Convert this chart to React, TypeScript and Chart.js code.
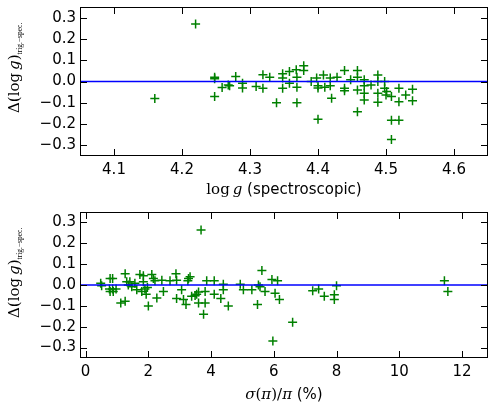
import React, { useEffect, useRef } from "react";
import { Chart, registerables } from "chart.js";

Chart.register(...registerables);

// ---- Data ----
const topLogg = [
  4.16, 4.22, 4.248, 4.248, 4.248, 4.259, 4.268, 4.27, 4.279, 4.289,
  4.289, 4.309, 4.319, 4.319, 4.329, 4.339, 4.348, 4.348, 4.348, 4.358,
  4.358, 4.368, 4.369, 4.369, 4.369, 4.379, 4.379, 4.39, 4.398, 4.4,
  4.4, 4.4, 4.408, 4.41, 4.418, 4.418, 4.42, 4.428, 4.439, 4.439,
  4.439, 4.448, 4.458, 4.458, 4.458, 4.458, 4.468, 4.468, 4.468, 4.468,
  4.478, 4.488, 4.488, 4.488, 4.488, 4.498, 4.498, 4.5, 4.501, 4.508,
  4.508, 4.508, 4.519, 4.519, 4.519, 4.529, 4.539, 4.539,
];
const topDelta = [
  -0.08, 0.27, 0.02, 0.013, -0.07, -0.028, -0.016, -0.02, 0.024, -0.008,
  -0.03, -0.024, 0.032, -0.032, 0.02, -0.1, 0.036, 0.016, -0.032, 0.047,
  -0.008, 0.055, 0.02, -0.027, -0.1, 0.074, 0.052, 0, 0.016, -0.02,
  -0.177, -0.03, 0.03, -0.027, 0.016, -0.02, -0.079, 0.02, 0.052, -0.032,
  -0.043, 0.008, 0.052, 0.02, -0.04, -0.142, 0.008, -0.02, -0.055, -0.087,
  -0.016, 0.03, 0, -0.055, -0.098, 0, -0.032, -0.063, -0.047, -0.182,
  -0.273, -0.071, -0.032, -0.095, -0.182, -0.063, -0.036, -0.09,
];
const botSigma = [
  0.48, 0.51, 0.78, 0.76, 0.78, 0.86, 0.86, 0.88, 0.97, 1.26,
  1.12, 1.26, 1.31, 1.36, 1.41, 1.47, 1.57, 1.63, 1.73, 1.79,
  1.84, 1.84, 1.89, 1.93, 1.97, 2.0, 2.11, 2.16, 2.21, 2.27,
  2.43, 2.48, 2.69, 2.88, 2.9, 2.9, 3.06, 3.12, 3.2, 3.26,
  3.28, 3.33, 3.38, 3.49, 3.54, 3.6, 3.6, 3.68, 3.76, 3.81,
  3.81, 3.86, 4.1, 4.1, 4.31, 4.39, 4.39, 4.55, 4.93, 5.03,
  5.3, 5.48, 5.51, 5.56, 5.62, 5.72, 5.94, 5.97, 6.04, 6.12,
  6.18, 6.6, 7.24, 7.43, 7.61, 7.93, 7.93, 8.0, 11.44, 11.55,
];
const botDelta = [
  0.008, -0.003, 0.031, -0.019, -0.031, 0.031, -0.019, -0.031, -0.019, 0.054,
  -0.086, -0.078, 0.016, 0, 0.016, -0.008, 0.008, -0.023, 0.05, -0.031,
  0.044, 0.016, -0.019, -0.044, -0.012, -0.101, 0.05, 0.031, 0.02, -0.062,
  0.023, -0.031, 0.02, 0.054, 0.023, -0.065, -0.023, -0.07, -0.093, 0.02,
  0.031, 0.039, -0.054, -0.05, -0.044, -0.034, -0.086, 0.264, -0.14, -0.031,
  -0.086, 0.02, 0.02, -0.044, -0.065, 0.003, -0.023, -0.101, 0.003, -0.023,
  -0.023, -0.093, 0, -0.008, 0.07, -0.031, 0.026, -0.269, -0.039, 0.02,
  -0.07, -0.179, -0.028, -0.019, -0.054, -0.047, -0.07, -0.003, 0.02, -0.031,
];
const topXTicks = [4.1, 4.2, 4.3, 4.4, 4.5, 4.6];
const botXTicks = [0, 2, 4, 6, 8, 10, 12];
const yTicks = [-0.3, -0.2, -0.1, 0.0, 0.1, 0.2, 0.3];
const topXRange = [4.05, 4.65];
const botXRange = [-0.18, 12.83];
const yRange = [-0.35, 0.35];
const refValue = 0;

// ---- Styling ----
const SANS = "DejaVu Sans";
const SERIF = "DejaVu Serif";
const GREEN = "#008000";
const BLUE = "#0000ff";

type Run = { t: string; f: string; dy?: number };

function drawRuns(ctx: CanvasRenderingContext2D, runs: Run[], x: number, y: number, center: boolean) {
  let total = 0;
  const ws = runs.map((r) => {
    ctx.font = r.f;
    const w = ctx.measureText(r.t).width;
    total += w;
    return w;
  });
  let cx = center ? x - total / 2 : x;
  ctx.textAlign = "left";
  ctx.textBaseline = "alphabetic";
  runs.forEach((r, i) => {
    ctx.font = r.f;
    ctx.fillText(r.t, cx, y + (r.dy || 0));
    cx += ws[i];
  });
}

const yLabelRuns: Run[] = [
  { t: "\u0394(log\u2009", f: `15px ${SERIF}` },
  { t: "g", f: `italic 15px ${SERIF}` },
  { t: ")", f: `15px ${SERIF}` },
  { t: "trig.\u2212spec.", f: `7.5px "Liberation Serif"`, dy: 3 },
];
const topXLabelRuns: Run[] = [
  { t: "log\u2009", f: `15px ${SERIF}` },
  { t: "g", f: `italic 15px ${SERIF}` },
  { t: " (spectroscopic)", f: `15px ${SANS}` },
];
const botXLabelRuns: Run[] = [
  { t: "\u03c3", f: `italic 15px ${SERIF}` },
  { t: "(", f: `15px ${SERIF}` },
  { t: "\u03c0", f: `italic 15px ${SERIF}` },
  { t: ")/", f: `15px ${SERIF}` },
  { t: "\u03c0", f: `italic 15px ${SERIF}` },
  { t: " (%)", f: `15px ${SANS}` },
];

function makeFramePlugin(xRuns: Run[], xTitleOffset: number) {
  return {
    id: "frameAndLabels",
    afterDatasetsDraw(chart: any) {
      const { ctx, chartArea: a, scales } = chart;
      const x = scales.x;
      const y = scales.y;
      const L = 7;
      ctx.save();
      ctx.strokeStyle = "#000";
      ctx.lineWidth = 1;
      ctx.beginPath();
      for (const t of x.ticks) {
        const px = Math.round(x.getPixelForValue(t.value)) + 0.5;
        ctx.moveTo(px, a.bottom);
        ctx.lineTo(px, a.bottom - L);
        ctx.moveTo(px, a.top);
        ctx.lineTo(px, a.top + L);
      }
      for (const t of y.ticks) {
        const py = Math.round(y.getPixelForValue(t.value)) + 0.5;
        ctx.moveTo(a.left, py);
        ctx.lineTo(a.left + L, py);
        ctx.moveTo(a.right, py);
        ctx.lineTo(a.right - L, py);
      }
      ctx.stroke();
      ctx.strokeRect(a.left + 0.5, a.top + 0.5, a.width - 1, a.height - 1);

      ctx.fillStyle = "#000";
      drawRuns(ctx, xRuns, (a.left + a.right) / 2, a.bottom + xTitleOffset, true);
      ctx.save();
      ctx.translate(19, a.top + 106);
      ctx.rotate(-Math.PI / 2);
      drawRuns(ctx, yLabelRuns, 0, 0, false);
      ctx.restore();
      ctx.restore();
    },
  };
}

const fmtY = (v: number) => (v < 0 ? "\u2212" + Math.abs(v).toFixed(1) : v.toFixed(1));

function makeConfig(
  xs: number[],
  ys: number[],
  xTicks: number[],
  xRange: number[],
  xFmt: (v: number) => string,
  topPad: number,
  xAxisHeight: number,
  xRuns: Run[],
  xTitleOffset: number
): any {
  return {
    type: "scatter",
    data: {
      datasets: [
        {
          type: "line",
          data: [
            { x: xRange[0], y: refValue },
            { x: xRange[1], y: refValue },
          ],
          borderColor: BLUE,
          borderWidth: 1.5,
          pointRadius: 0,
          fill: false,
          order: 0,
        },
        {
          type: "scatter",
          data: xs.map((x, i) => ({ x, y: ys[i] })),
          pointStyle: "cross",
          pointRadius: 4.5,
          borderColor: GREEN,
          backgroundColor: GREEN,
          borderWidth: 1.5,
          order: 1,
        },
      ],
    },
    options: {
      animation: false,
      responsive: false,
      devicePixelRatio: 1,
      layout: { padding: { top: topPad, right: 8, left: 0, bottom: 0 } },
      plugins: { legend: { display: false }, tooltip: { enabled: false } },
      scales: {
        x: {
          type: "linear",
          min: xRange[0],
          max: xRange[1],
          afterBuildTicks: (s: any) => {
            s.ticks = xTicks.map((v) => ({ value: v }));
          },
          afterFit: (s: any) => {
            s.height = xAxisHeight;
            s.paddingLeft = 0;
            s.paddingRight = 0;
          },
          grid: { display: false, drawTicks: false },
          border: { display: false },
          ticks: {
            font: { family: SANS, size: 15 },
            color: "#000",
            padding: 5,
            maxRotation: 0,
            autoSkip: false,
            callback: (v: number) => xFmt(v),
          },
        },
        y: {
          type: "linear",
          min: yRange[0],
          max: yRange[1],
          afterBuildTicks: (s: any) => {
            s.ticks = yTicks.map((v) => ({ value: v }));
          },
          afterFit: (s: any) => {
            s.width = 80;
            s.paddingTop = 0;
            s.paddingBottom = 0;
          },
          grid: { display: false, drawTicks: false },
          border: { display: false },
          ticks: {
            font: { family: SANS, size: 15 },
            color: "#000",
            padding: 4,
            autoSkip: false,
            callback: (v: number) => fmtY(v),
          },
        },
      },
    },
    plugins: [makeFramePlugin(xRuns, xTitleOffset)],
  };
}

export default function App() {
  const topRef = useRef<HTMLCanvasElement>(null);
  const botRef = useRef<HTMLCanvasElement>(null);

  useEffect(() => {
    document.body.style.margin = "0";
    const c1 = new Chart(
      topRef.current as HTMLCanvasElement,
      makeConfig(topLogg, topDelta, topXTicks, topXRange, (v) => v.toFixed(1), 7, 50, topXLabelRuns, 38)
    );
    const c2 = new Chart(
      botRef.current as HTMLCanvasElement,
      makeConfig(botSigma, botDelta, botXTicks, botXRange, (v) => String(Math.round(v)), 3, 55, botXLabelRuns, 41)
    );
    return () => {
      c1.destroy();
      c2.destroy();
    };
  }, []);

  return (
    <div style={{ position: "relative", width: 496, height: 413, background: "#fff" }}>
      <canvas
        ref={topRef}
        width={496}
        height={206}
        style={{ position: "absolute", left: 0, top: 0, width: 496, height: 206 }}
      />
      <canvas
        ref={botRef}
        width={496}
        height={207}
        style={{ position: "absolute", left: 0, top: 206, width: 496, height: 207 }}
      />
    </div>
  );
}
